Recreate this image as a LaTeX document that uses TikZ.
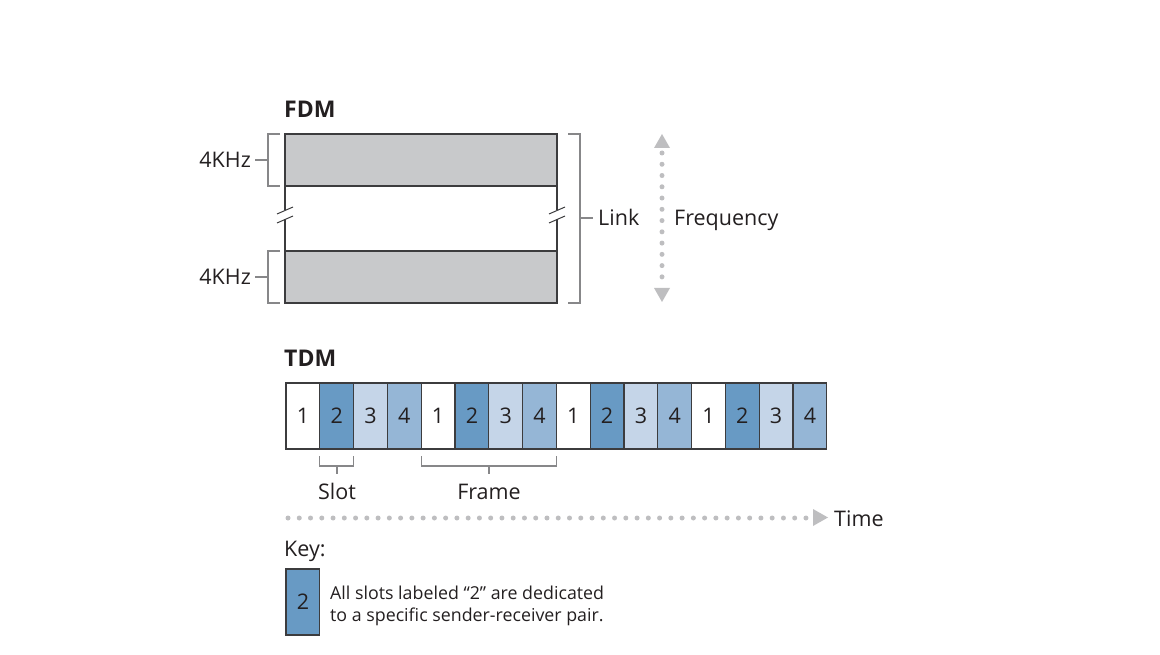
\documentclass[tikz,border=0pt]{standalone}
\usepackage{fontspec}
\setmainfont{Open Sans}
\usetikzlibrary{arrows.meta,calc}
\definecolor{txt}{RGB}{35,31,32}
\definecolor{boxline}{RGB}{60,60,62}
\definecolor{bandgray}{RGB}{200,201,203}
\definecolor{brk}{RGB}{135,135,137}
\definecolor{dotgray}{RGB}{190,190,192}
\definecolor{cA}{RGB}{255,255,255}
\definecolor{cB}{RGB}{104,154,196}
\definecolor{cC}{RGB}{197,213,232}
\definecolor{cD}{RGB}{149,182,214}
\begin{document}
\begin{tikzpicture}[x=1pt,y=-1pt,
  band/.style={draw=boxline, fill=bandgray, line width=1.3pt, minimum width=272pt, minimum height=52pt, inner sep=0pt, outer sep=0pt, anchor=north west},
  edge/.style={draw=boxline, line width=1.3pt},
  bracket/.style={draw=brk, line width=1.1pt},
  lbl/.style={font=\fontsize{21.5}{24}\selectfont, text=txt, inner sep=0pt},
  head/.style={font=\fontsize{23}{26}\selectfont\bfseries, text=txt, inner sep=0pt, anchor=base west},
  slotbox/.style={draw=boxline, line width=1.2pt, minimum width=33.8pt, minimum height=66pt, inner sep=0pt, outer sep=0pt, anchor=north west, font=\fontsize{21.5}{24}\selectfont, text=txt},
  dots/.style={draw=dotgray, line width=5pt, line cap=round, dash pattern=on 0pt off 11.26pt},
  tri/.style={fill=dotgray, draw=none}
]
\useasboundingbox (0,0) rectangle (1160,655);

% ---------- FDM ----------
\node[head] (fdm) at (284,118) {FDM};
\node[band] (b1) at (285,134) {};
\node[band] (b2) at (285,251) {};
% side lines with breaks
\draw[edge] (b1.south west) -- (285,210);
\draw[edge] (285,219) -- (b2.north west);
\draw[edge] (b1.south east) -- (557,210);
\draw[edge] (557,219) -- (b2.north east);
\foreach \xx in {285,557}{
  \draw[edge, line width=1pt] (\xx-8,214) -- (\xx+8,207);
  \draw[edge, line width=1pt] (\xx-8,223) -- (\xx+8,216);
}
% left brackets
\draw[bracket] (280,134) -- (268,134) -- (268,186) -- (280,186);
\draw[bracket] (280,251) -- (268,251) -- (268,303) -- (280,303);
\node[lbl, anchor=base east] (ka) at (251,167.5) {4KHz};
\node[lbl, anchor=base east] (kb) at (251,284.5) {4KHz};
\coordinate (kat) at (268,160);
\coordinate (kbt) at (268,277);
\draw[bracket] (kat) -- (255,160);
\draw[bracket] (kbt) -- (255,277);
% right bracket
\draw[bracket] (568,134) -- (580,134) -- (580,303) -- (568,303);
\coordinate (lk) at (580,218);
\node[lbl, anchor=base west] (link) at (598,225.5) {Link};
\draw[bracket] (lk) -- (593,218);
% frequency arrow
\coordinate (ft) at (662,134);
\coordinate (fb) at (662,302);
\draw[dots] (662,153) -- (662,288);
\fill[tri] (ft) -- (670,148) -- (654,148) -- cycle;
\fill[tri] (fb) -- (670,288) -- (654,288) -- cycle;
\node[lbl, anchor=base west] (freq) at (674,225.5) {Frequency};

% ---------- TDM ----------
\node[head] (tdm) at (284,366) {TDM};
\foreach \i in {1,...,16}{
  \pgfmathtruncatemacro{\n}{mod(\i-1,4)+1}
  \ifcase\n\or\def\cc{cA}\or\def\cc{cB}\or\def\cc{cC}\or\def\cc{cD}\fi
  \node[slotbox, fill=\cc] (s\i) at ({286+(\i-1)*33.8},383) {\n};
}
% slot bracket
\draw[bracket] ($(s2.south west)+(0,7)$) -- ++(0,10) -- ($(s2.south east)+(0,17)$) -- ++(0,-10);
\node[lbl, anchor=base] (slot) at (337,499.5) {Slot};
\draw[bracket] (337,466) -- (337,474);
% frame bracket
\draw[bracket] ($(s5.south west)+(0,7)$) -- ++(0,10) -- ($(s8.south east)+(0,17)$) -- ++(0,-10);
\node[lbl, anchor=base] (frame) at (489,499.5) {Frame};
\draw[bracket] (489,466) -- (489,474);

% time arrow
\draw[dots] (288,518) -- (806.5,518);
\coordinate (tt) at (828,517.5);
\fill[tri] (tt) -- (813,509) -- (813,526) -- cycle;
\node[lbl, anchor=base west] (time) at (834,526) {Time};

% ---------- Key ----------
\node[lbl, anchor=base west] (key) at (284,556.5) {Key:};
\node[slotbox, fill=cB] (kbox) at (286,569) {2};
\node[font=\fontsize{17.8}{22.7}\selectfont, text=txt, inner sep=0pt, anchor=base west, align=left] (ktext) at (330,621.7)
  {All slots labeled \textquotedblleft2\textquotedblright\ are dedicated\\to a specific sender-receiver pair.};
\end{tikzpicture}
\end{document}
